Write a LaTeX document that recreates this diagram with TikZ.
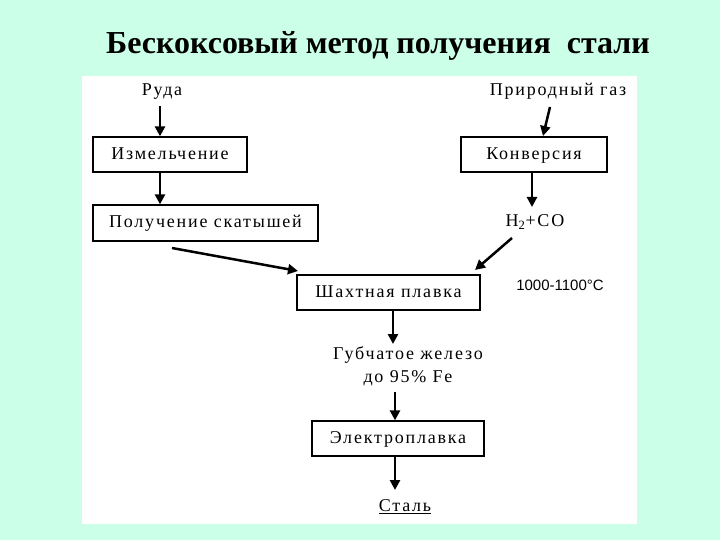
\documentclass[tikz,border=0pt]{standalone}
\usepackage{fontspec}
\setmainfont{Liberation Serif}
\newfontfamily\spacedfont[LetterSpace=10]{Liberation Serif}
\newfontfamily\numfont{Liberation Sans}
\usetikzlibrary{arrows.meta}
\definecolor{mint}{HTML}{CCFFE8}
\begin{document}
\begin{tikzpicture}[x=1pt,y=-1pt,
  stepbox/.style={draw=black,line width=1.3pt,fill=white,inner sep=0pt,text height=13pt,text depth=3pt,font=\spacedfont\fontsize{18}{20}\selectfont},
  lbl/.style={inner sep=0pt,font=\spacedfont\fontsize{18}{20}\selectfont},
  arr/.style={line width=2.5pt,-{Triangle[length=10pt,width=10pt]}}]
\useasboundingbox (0,0) rectangle (720,540);
\fill[mint] (0,0) rectangle (720,540);
\fill[white] (82,76) rectangle (637,524);
\node[inner sep=0pt,font=\fontsize{32}{36}\selectfont\bfseries] (title) at (378,46) {Бескоксовый метод получения\ \ стали};
% left column
\node[lbl] (ruda) at (162,92) {Руда};
\node[stepbox,minimum width=154pt,minimum height=35pt] (izm) at (170,154.5) {Измельчение};
\node[stepbox,minimum width=225pt,minimum height=36pt] (pol) at (205.5,223) {Получение скатышей};
% right column
\node[lbl] (gaz) at (558,91) {Природный газ};
\node[stepbox,minimum width=146pt,minimum height=35pt] (konv) at (534,154.5) {Конверсия};
\node[lbl] (h2co) at (535,222) {H\textsubscript{2}+CO};
% center
\node[stepbox,minimum width=183pt,minimum height=35pt] (shakh) at (388.5,292.5) {Шахтная плавка};
\node[inner sep=0pt,font=\numfont\fontsize{15}{17}\selectfont] (temp) at (560,285) {1000-1100°C};
\node[lbl,align=center,font=\spacedfont\fontsize{18}{23}\selectfont] (gub) at (408,366) {Губчатое железо\\до 95\% Fe};
\node[stepbox,minimum width=172pt,minimum height=35pt] (elec) at (398,438.5) {Электроплавка};
\node[lbl] (stal) at (405,507) {\underline{Сталь}};
% arrows
\draw[arr] (160,106) -- (izm.north -| 160,0);
\draw[arr] (izm.south -| 160,0) -- (pol.north -| 160,0);
\draw[arr] (172,248) -- (298,271);
\draw[arr] (550,107) -- (543,136);
\draw[arr] (konv.south -| 532,0) -- (532,207);
\draw[arr] (512,238) -- (475,270);
\draw[arr] (shakh.south -| 393,0) -- (393,344);
\draw[arr] (395,392) -- (elec.north -| 395,0);
\draw[arr] (elec.south -| 395,0) -- (395,490);
\end{tikzpicture}
\end{document}
